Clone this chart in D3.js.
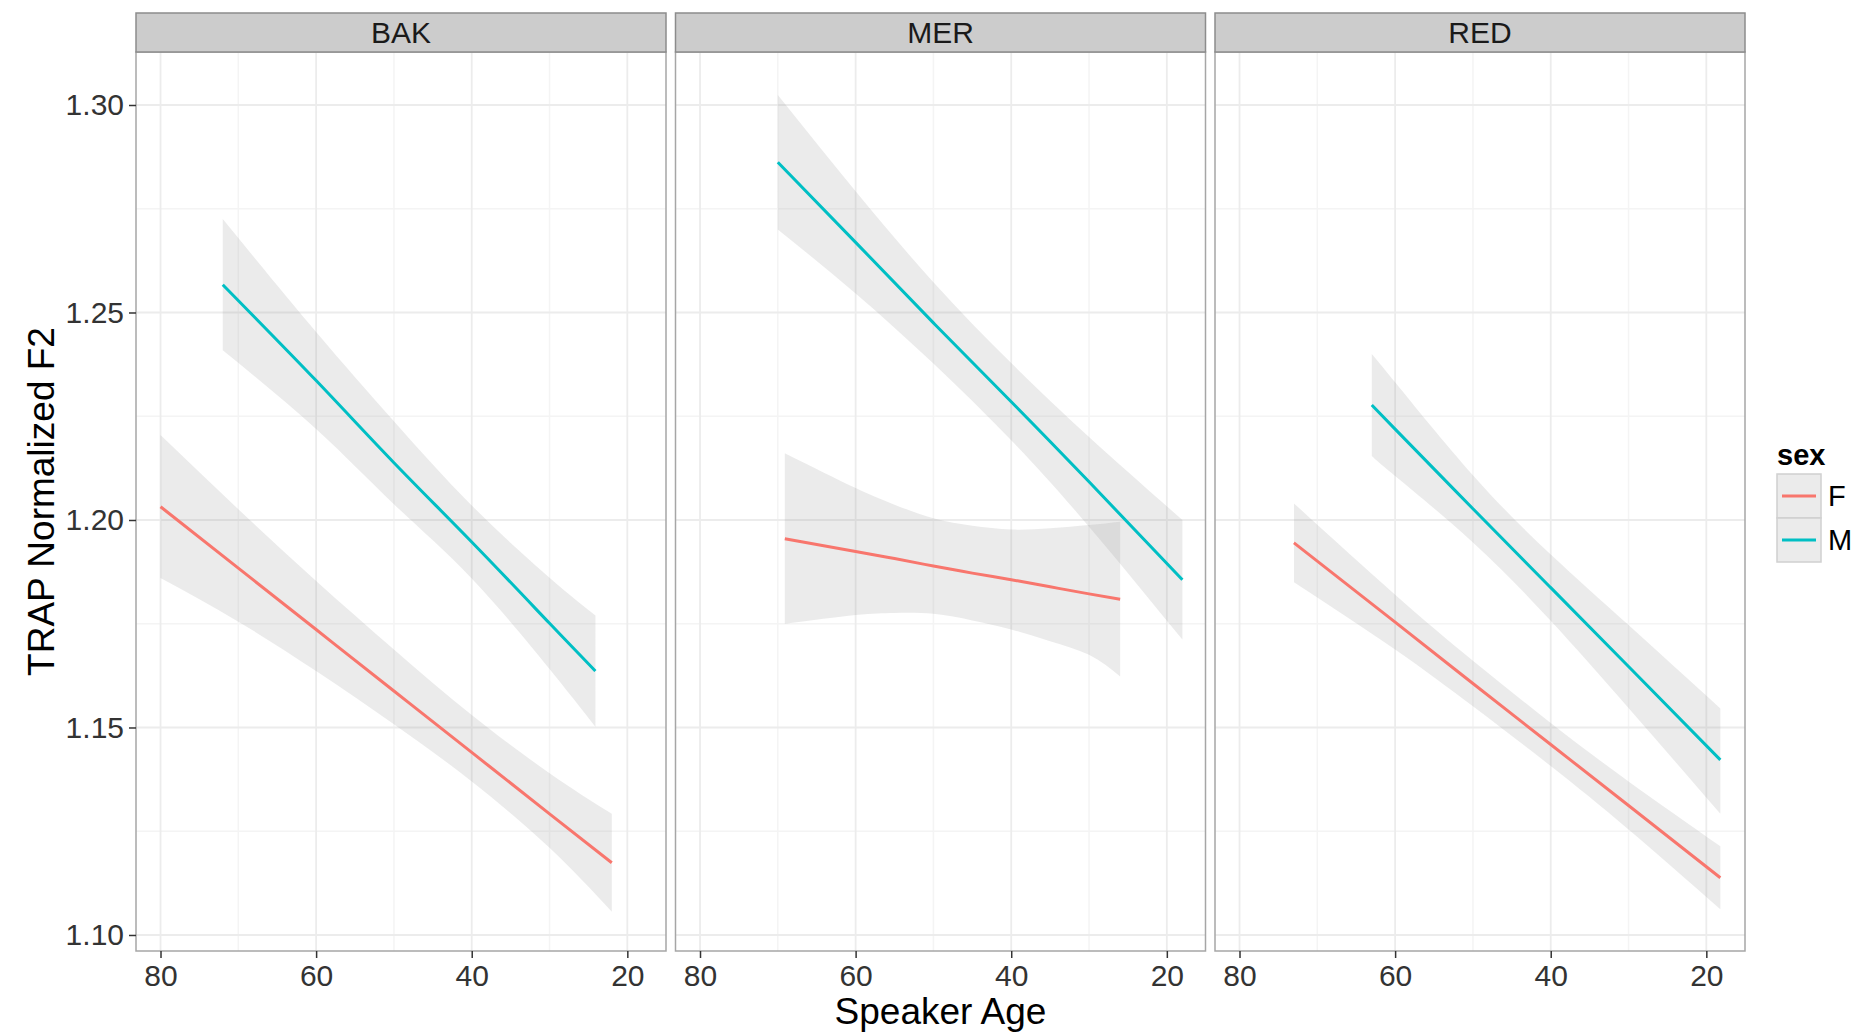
<!DOCTYPE html>
<html>
<head>
<meta charset="utf-8">
<script src="https://cdn.jsdelivr.net/npm/d3@7"></script>
<style>
  html, body { margin: 0; padding: 0; background: #ffffff; }
  svg { display: block; font-family: "Liberation Sans", Arial, Helvetica, sans-serif; }
</style>
</head>
<body>
<svg id="chart" width="1857" height="1035"></svg>
<script>
// ---------------- data ----------------
const facets = ["BAK", "MER", "RED"];
const sexLevels = ["F", "M"];
const xTicks = [80, 60, 40, 20];
const xMinorTicks = [70, 50, 30];
const yTicks = [1.10, 1.15, 1.20, 1.25, 1.30];
const yTickLabels = ["1.10", "1.15", "1.20", "1.25", "1.30"];
const yMinorTicks = [1.125, 1.175, 1.225, 1.275];

// BAK
const BAK_F_age = [80, 70, 60, 50, 40, 30, 22];
const BAK_F_fit = [1.2032, 1.1884, 1.1736, 1.1588, 1.1440, 1.1292, 1.1174];
const BAK_F_lo  = [1.1860, 1.1755, 1.1636, 1.1508, 1.1370, 1.1210, 1.1056];
const BAK_F_hi  = [1.2205, 1.2026, 1.1853, 1.1688, 1.1530, 1.1390, 1.1292];

const BAK_M_age = [72, 60, 50, 40, 30, 24.1];
const BAK_M_fit = [1.2567, 1.2336, 1.2138, 1.1947, 1.1751, 1.1636];
const BAK_M_lo  = [1.2409, 1.2219, 1.2038, 1.1859, 1.1641, 1.1502];
const BAK_M_hi  = [1.2725, 1.2453, 1.2238, 1.2035, 1.1861, 1.1770];

// MER
const MER_F_age = [69.1, 60, 55, 50, 45, 40, 35, 30, 26];
const MER_F_fit = [1.1955, 1.1924, 1.1907, 1.1889, 1.1872, 1.1856, 1.1839, 1.1822, 1.1809];
const MER_F_lo  = [1.1750, 1.1771, 1.1776, 1.1774, 1.1758, 1.1736, 1.1708, 1.1675, 1.1623];
const MER_F_hi  = [1.2161, 1.2077, 1.2037, 1.2004, 1.1986, 1.1977, 1.1980, 1.1988, 1.1996];

const MER_M_age = [70, 60, 50, 40, 30, 18];
const MER_M_fit = [1.2862, 1.2669, 1.2475, 1.2285, 1.2092, 1.1856];
const MER_M_lo  = [1.2700, 1.2546, 1.2377, 1.2192, 1.1984, 1.1712];
const MER_M_hi  = [1.3024, 1.2792, 1.2573, 1.2378, 1.2200, 1.2000];

// RED
const RED_F_age = [73, 60, 50, 40, 30, 18.2];
const RED_F_fit = [1.1945, 1.1754, 1.1606, 1.1459, 1.1312, 1.1138];
const RED_F_lo  = [1.1850, 1.1688, 1.1551, 1.1407, 1.1254, 1.1062];
const RED_F_hi  = [1.2040, 1.1820, 1.1661, 1.1511, 1.1370, 1.1214];

const RED_M_age = [63, 60, 50, 40, 30, 18.2];
const RED_M_fit = [1.2277, 1.2219, 1.2027, 1.1837, 1.1647, 1.1422];
const RED_M_lo  = [1.2154, 1.2106, 1.1946, 1.1757, 1.1547, 1.1292];
const RED_M_hi  = [1.2400, 1.2332, 1.2108, 1.1917, 1.1747, 1.1546];

const seriesTable = {
  BAK: { F: [BAK_F_age, BAK_F_fit, BAK_F_lo, BAK_F_hi], M: [BAK_M_age, BAK_M_fit, BAK_M_lo, BAK_M_hi] },
  MER: { F: [MER_F_age, MER_F_fit, MER_F_lo, MER_F_hi], M: [MER_M_age, MER_M_fit, MER_M_lo, MER_M_hi] },
  RED: { F: [RED_F_age, RED_F_fit, RED_F_lo, RED_F_hi], M: [RED_M_age, RED_M_fit, RED_M_lo, RED_M_hi] }
};

// ---------------- layout ----------------
const sexColor = d3.scaleOrdinal().domain(sexLevels).range(["#F8766D", "#00BFC4"]);
const panelLeft0 = 136, panelTop = 52, panelW = 530, panelH = 899, panelStep = 539.5;
const stripTop = 13;

const x = d3.scaleLinear().domain([83.15, 15.03]).range([0, panelW]);
const y = d3.scaleLinear().domain([1.09614, 1.31277]).range([panelH, 0]);

const svg = d3.select("#chart");

facets.forEach((fac, i) => {
  const g = svg.append("g").attr("transform", `translate(${panelLeft0 + i * panelStep},${panelTop})`);

  g.append("rect").attr("width", panelW).attr("height", panelH).attr("fill", "#ffffff");

  // minor grid
  g.selectAll(".ymin").data(yMinorTicks).enter().append("line")
    .attr("x1", 0).attr("x2", panelW).attr("y1", d => y(d)).attr("y2", d => y(d))
    .attr("stroke", "#f4f4f4").attr("stroke-width", 1.5);
  g.selectAll(".xmin").data(xMinorTicks).enter().append("line")
    .attr("y1", 0).attr("y2", panelH).attr("x1", d => x(d)).attr("x2", d => x(d))
    .attr("stroke", "#f4f4f4").attr("stroke-width", 1.5);
  // major grid
  g.selectAll(".ymaj").data(yTicks).enter().append("line")
    .attr("x1", 0).attr("x2", panelW).attr("y1", d => y(d)).attr("y2", d => y(d))
    .attr("stroke", "#ececec").attr("stroke-width", 1.8);
  g.selectAll(".xmaj").data(xTicks).enter().append("line")
    .attr("y1", 0).attr("y2", panelH).attr("x1", d => x(d)).attr("x2", d => x(d))
    .attr("stroke", "#ececec").attr("stroke-width", 1.8);

  // ribbons
  sexLevels.forEach(s => {
    const [age, fit, lo, hi] = seriesTable[fac][s];
    const pts = age.map((a, k) => ({ a, fit: fit[k], lo: lo[k], hi: hi[k] }));
    const area = d3.area().x(d => x(d.a)).y0(d => y(d.lo)).y1(d => y(d.hi)).curve(d3.curveNatural);
    g.append("path").datum(pts).attr("d", area)
      .attr("fill", "#999999").attr("fill-opacity", 0.2).attr("stroke", "none");
  });
  // regression lines
  sexLevels.forEach(s => {
    const [age, fit] = seriesTable[fac][s];
    const pts = age.map((a, k) => ({ a, fit: fit[k] }));
    const line = d3.line().x(d => x(d.a)).y(d => y(d.fit)).curve(d3.curveNatural);
    g.append("path").datum(pts).attr("d", line)
      .attr("fill", "none").attr("stroke", sexColor(s)).attr("stroke-width", 3);
  });

  // border
  g.append("rect").attr("width", panelW).attr("height", panelH)
    .attr("fill", "none").attr("stroke", "#a6a6a6").attr("stroke-width", 1.5);

  // strip
  const sg = svg.append("g").attr("transform", `translate(${panelLeft0 + i * panelStep},${stripTop})`);
  sg.append("rect").attr("width", panelW).attr("height", panelTop - stripTop)
    .attr("fill", "#cccccc").attr("stroke", "#8c8c8c").attr("stroke-width", 1.5);
  sg.append("text").attr("x", panelW / 2).attr("y", (panelTop - stripTop) / 2 + 10.5)
    .attr("text-anchor", "middle").attr("font-size", 30).attr("fill", "#1a1a1a").text(fac);

  // x axis
  const xa = g.append("g").attr("transform", `translate(0,${panelH})`)
    .call(d3.axisBottom(x).tickValues(xTicks).tickFormat(d3.format("d")).tickSize(7).tickPadding(7));
  xa.select(".domain").remove();
  xa.selectAll(".tick line").attr("stroke", "#333333").attr("stroke-width", 1.5);
  xa.selectAll(".tick text").attr("font-size", 30).attr("fill", "#333333")
    .attr("font-family", "'Liberation Sans', Arial, sans-serif");

  // y axis (first panel only)
  if (i === 0) {
    const ya = g.append("g")
      .call(d3.axisLeft(y).tickValues(yTicks).tickFormat((d, k) => yTickLabels[k]).tickSize(7).tickPadding(5));
    ya.select(".domain").remove();
    ya.selectAll(".tick line").attr("stroke", "#333333").attr("stroke-width", 1.5);
    ya.selectAll(".tick text").attr("font-size", 30).attr("fill", "#333333")
      .attr("font-family", "'Liberation Sans', Arial, sans-serif");
  }
});

// axis titles
svg.append("text")
  .attr("x", panelLeft0 + panelStep + panelW / 2).attr("y", 1024)
  .attr("text-anchor", "middle").attr("font-size", 37).attr("fill", "#000").text("Speaker Age");
svg.append("text")
  .attr("transform", `translate(54,${panelTop + panelH / 2}) rotate(-90)`)
  .attr("text-anchor", "middle").attr("font-size", 37).attr("fill", "#000").text("TRAP Normalized F2");

// legend
const lg = svg.append("g").attr("transform", "translate(1777,0)");
lg.append("text").attr("x", 0).attr("y", 465).attr("font-size", 29).attr("font-weight", "bold")
  .attr("fill", "#000").text("sex");
sexLevels.forEach((s, k) => {
  const top = 474 + k * 44;
  lg.append("rect").attr("x", 0).attr("y", top).attr("width", 44).attr("height", 44)
    .attr("fill", "#ebebeb").attr("stroke", "#d0d0d0").attr("stroke-width", 1.5);
  lg.append("line").attr("x1", 5).attr("x2", 39).attr("y1", top + 22).attr("y2", top + 22)
    .attr("stroke", sexColor(s)).attr("stroke-width", 3);
  lg.append("text").attr("x", 51).attr("y", top + 32).attr("font-size", 29).attr("fill", "#000").text(s);
});
</script>
</body>
</html>
